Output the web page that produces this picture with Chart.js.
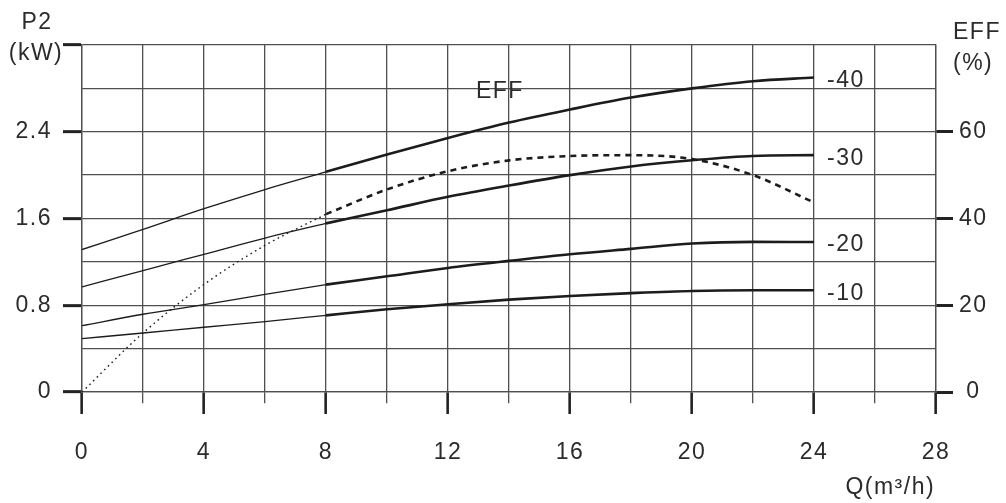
<!DOCTYPE html>
<html>
<head>
<meta charset="utf-8">
<script src="https://cdn.jsdelivr.net/npm/chart.js@4/dist/chart.umd.min.js"></script>
<style>
  html, body { margin: 0; padding: 0; background: #fff; }
  #wrap { width: 1006px; height: 503px; }
</style>
</head>
<body>
<div id="wrap"><canvas id="pumpChart" width="1006" height="503"></canvas></div>
<script>
// flow rate Q (m3/h)
var flow = [0, 2, 4, 6, 8, 10, 12, 14, 16, 18, 20, 22, 24];

// shaft power P2 (kW) for each curve
var p2Minus40 = [1.314, 1.50, 1.69, 1.867, 2.03, 2.19, 2.343, 2.485, 2.605, 2.715, 2.80, 2.866, 2.90];
var p2Minus30 = [0.969, 1.12, 1.27, 1.42, 1.555, 1.676, 1.80, 1.904, 2.0, 2.08, 2.137, 2.177, 2.184];
var p2Minus20 = [0.612, 0.717, 0.806, 0.90, 0.99, 1.067, 1.144, 1.209, 1.27, 1.32, 1.369, 1.384, 1.383];
var p2Minus10 = [0.492, 0.544, 0.597, 0.649, 0.707, 0.763, 0.809, 0.852, 0.886, 0.912, 0.932, 0.938, 0.938];

// efficiency (%)
var efficiency = [0, 13.6, 24.8, 33.8, 41, 46.7, 50.9, 53.4, 54.4, 54.6, 53.7, 50, 43.7];

var curveNames = ["-40", "-30", "-20", "-10"];
var curveValues = [p2Minus40, p2Minus30, p2Minus20, p2Minus10];

var xTicks = [0, 4, 8, 12, 16, 20, 24, 28];
var p2Ticks = ["0", "0.8", "1.6", "2.4"];
var effTicks = ["0", "20", "40", "60"];

var splitQ = 8;   // curves are drawn thin below this flow and thick above

var lineColor = "#1c1c1c";
var gridColor = "#4f4f4f";
var textColor = "#2b2b2b";
var fontFamily = '"Liberation Sans", Arial, Helvetica, sans-serif';

function points(values, from, to) {
    var out = [];
    for (var i = 0; i < flow.length; i++) {
        if (flow[i] >= from && flow[i] <= to) {
            out.push({x: flow[i], y: values[i]});
        }
    }
    return out;
}

var datasets = [];
curveValues.forEach(function (vals, i) {
    datasets.push({
        label: curveNames[i] + " thin",
        data: points(vals, 0, splitQ),
        borderColor: lineColor,
        borderWidth: 1.3,
        yAxisID: "y"
    });
    datasets.push({
        label: curveNames[i],
        data: points(vals, splitQ, 24),
        borderColor: lineColor,
        borderWidth: 2.6,
        yAxisID: "y"
    });
});
datasets.push({
    label: "EFF dotted",
    data: points(efficiency, 0, splitQ),
    borderColor: lineColor,
    borderWidth: 1.4,
    borderDash: [1.6, 3.6],
    yAxisID: "y1"
});
datasets.push({
    label: "EFF",
    data: points(efficiency, splitQ, 24),
    borderColor: lineColor,
    borderWidth: 2.6,
    borderDash: [6, 5],
    yAxisID: "y1"
});

function spacing(chart) {
    try { chart.ctx.letterSpacing = "1.5px"; } catch (e) {}
}

var textPlugin = {
    id: "textLabels",
    beforeUpdate: spacing,
    beforeDraw: spacing,
    afterDraw: function (chart) {
        var ctx = chart.ctx;
        var xs = chart.scales.x, ys = chart.scales.y, ys1 = chart.scales.y1;
        var area = chart.chartArea;
        ctx.save();
        spacing(chart);
        ctx.fillStyle = textColor;
        ctx.font = "23px " + fontFamily;
        ctx.textBaseline = "middle";

        // axis titles
        ctx.textAlign = "center";
        ctx.fillText("P2", area.left - 45, area.top - 22);
        ctx.fillText("(kW)", area.left - 46, area.top + 9);
        ctx.textAlign = "left";
        ctx.fillText("EFF", area.right + 17, area.top - 12);
        ctx.fillText("(%)", area.right + 17, area.top + 19);
        ctx.textAlign = "center";
        ctx.fillText("Q(m\u00b3/h)", xs.getPixelForValue(26.5), area.bottom + 96);

        // curve names at the end of each power curve
        ctx.textAlign = "left";
        curveValues.forEach(function (vals, i) {
            var last = vals.length - 1;
            ctx.fillText(curveNames[i],
                xs.getPixelForValue(flow[last]) + 13,
                ys.getPixelForValue(vals[last]) + 3);
        });

        // efficiency curve name
        ctx.textAlign = "center";
        ctx.fillText("EFF", xs.getPixelForValue(13.7), ys1.getPixelForValue(69.2));
        ctx.restore();
    }
};

var tickFont = {family: fontFamily, size: 23};

new Chart(document.getElementById("pumpChart").getContext("2d"), {
    type: "scatter",
    data: {datasets: datasets},
    options: {
        responsive: false,
        animation: false,
        events: [],
        layout: {padding: {top: 45, left: 0, right: 0, bottom: 0}},
        elements: {
            point: {radius: 0, hoverRadius: 0},
            line: {cubicInterpolationMode: "monotone", fill: false}
        },
        datasets: {scatter: {showLine: true}},
        plugins: {legend: {display: false}, tooltip: {enabled: false}},
        scales: {
            x: {
                type: "linear",
                min: 0,
                max: 28,
                afterFit: function (scale) { scale.height = 111; },
                ticks: {
                    stepSize: 2,
                    autoSkip: false,
                    maxRotation: 0,
                    padding: 25,
                    color: textColor,
                    font: tickFont,
                    callback: function (v) {
                        return xTicks.indexOf(v) >= 0 ? String(v) : "";
                    }
                },
                grid: {
                    color: gridColor,
                    lineWidth: 1.3,
                    tickLength: 22,
                    tickColor: function (c) {
                        return c.tick && c.tick.value % 4 === 0 ? "#222" : gridColor;
                    },
                    tickWidth: function (c) {
                        return c.tick && c.tick.value % 4 === 0 ? 2.6 : 1.3;
                    },
                    tickBorderDash: function (c) {
                        return c.tick && c.tick.value % 4 === 0 ? [] : [11, 100];
                    }
                },
                border: {display: true, color: gridColor, width: 1.3}
            },
            y: {
                type: "linear",
                position: "left",
                min: 0,
                max: 3.2,
                afterFit: function (scale) { scale.width = 82; },
                ticks: {
                    stepSize: 0.4,
                    autoSkip: false,
                    padding: 11,
                    color: textColor,
                    font: tickFont,
                    callback: function (v) {
                        var s = String(Math.round(v * 10) / 10);
                        return p2Ticks.indexOf(s) >= 0 ? s : "";
                    }
                },
                grid: {
                    color: gridColor,
                    lineWidth: 1.3,
                    tickLength: 19,
                    tickColor: function (c) {
                        if (!c.tick) return "rgba(0,0,0,0)";
                        return Math.round(c.tick.value * 10) % 8 === 0 ? "#222" : "rgba(0,0,0,0)";
                    },
                    tickWidth: 3
                },
                border: {display: true, color: gridColor, width: 1.3}
            },
            y1: {
                type: "linear",
                position: "right",
                min: 0,
                max: 80,
                afterFit: function (scale) { scale.width = 70; },
                ticks: {
                    stepSize: 20,
                    autoSkip: false,
                    padding: 6,
                    crossAlign: "center",
                    color: textColor,
                    font: tickFont,
                    callback: function (v) {
                        return effTicks.indexOf(String(v)) >= 0 ? String(v) : "";
                    }
                },
                grid: {
                    drawOnChartArea: false,
                    tickLength: 17,
                    tickColor: function (c) {
                        return c.tick && c.tick.value < 80 ? "#222" : "rgba(0,0,0,0)";
                    },
                    tickWidth: 3
                },
                border: {display: true, color: gridColor, width: 1.3}
            }
        }
    },
    plugins: [textPlugin]
});
</script>
</body>
</html>
